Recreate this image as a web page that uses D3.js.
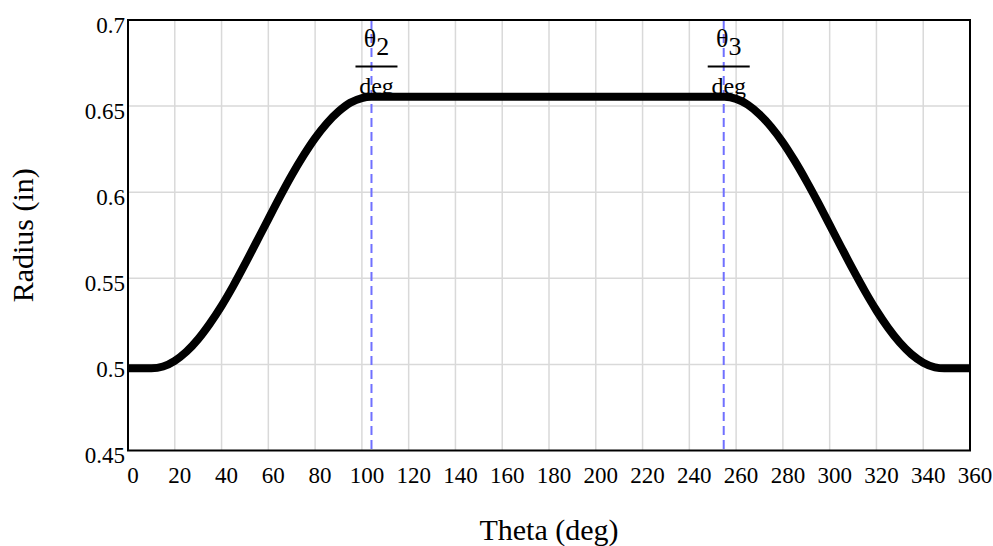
<!DOCTYPE html>
<html>
<head>
<meta charset="utf-8">
<script src="https://cdn.jsdelivr.net/npm/d3@7"></script>
<style>
  body { margin: 0; background: #fff; }
  text { font-family: "Liberation Serif", "Times New Roman", serif; fill: #000; }
</style>
</head>
<body>
<div id="chart"></div>
<script>
const width = 993;
const height = 546;

// cam follower radius vs. cam angle
const theta = [0, 5, 10, 15, 20, 25, 30, 35, 40, 45, 50, 55, 60, 65, 70, 75, 80, 85, 90, 95, 100, 104,
  150, 200, 250, 255, 260, 265, 270, 275, 280, 285, 290, 295, 300, 305, 310, 315, 320, 325, 330, 335, 340, 345, 349, 360];
const radius = [0.4977, 0.4977, 0.4977, 0.4988, 0.5021, 0.5074, 0.5147, 0.5237, 0.5340, 0.5456, 0.5582, 0.5713, 0.5844, 0.5974, 0.6098, 0.6212, 0.6314, 0.6400, 0.6468, 0.6519, 0.6547, 0.6554,
  0.6554, 0.6554, 0.6554, 0.6554, 0.6542, 0.6508, 0.6452, 0.6379, 0.6289, 0.6183, 0.6066, 0.5941, 0.5810, 0.5679, 0.5550, 0.5427, 0.5313, 0.5212, 0.5126, 0.5058, 0.5010, 0.4983, 0.4977, 0.4977];

const markerAngles = [104.1, 254.7];
const markerSubs = ["2", "3"];

const xTicks = d3.range(0, 361, 20);
const yTicks = [0.45, 0.5, 0.55, 0.6, 0.65, 0.7];

const margin = { left: 128, top: 20, right: 23, bottom: 95.5 };

const svg = d3.select("#chart")
  .append("svg")
  .attr("width", width)
  .attr("height", height);

const x = d3.scaleLinear()
  .domain([0, 360])
  .range([margin.left, width - margin.right]);

const y = d3.scaleLinear()
  .domain([0.45, 0.7])
  .range([height - margin.bottom, margin.top]);

// grid
svg.append("g")
  .selectAll("line")
  .data(xTicks.slice(1, -1))
  .enter()
  .append("line")
  .attr("x1", d => x(d))
  .attr("x2", d => x(d))
  .attr("y1", y(0.45))
  .attr("y2", y(0.7))
  .attr("stroke", "#d9d9d9")
  .attr("stroke-width", 1.5);

svg.append("g")
  .selectAll("line")
  .data(yTicks.slice(1, -1))
  .enter()
  .append("line")
  .attr("x1", x(0))
  .attr("x2", x(360))
  .attr("y1", d => y(d))
  .attr("y2", d => y(d))
  .attr("stroke", "#d9d9d9")
  .attr("stroke-width", 1.5);

// tick labels
svg.append("g")
  .selectAll("text")
  .data(xTicks)
  .enter()
  .append("text")
  .attr("x", d => x(d) + 5)
  .attr("y", y(0.45) + 32)
  .attr("text-anchor", "middle")
  .style("font-size", "23px")
  .text(d => d);

svg.append("g")
  .selectAll("text")
  .data(yTicks)
  .enter()
  .append("text")
  .attr("x", x(0) - 3)
  .attr("y", d => y(d) + 12.5)
  .attr("text-anchor", "end")
  .style("font-size", "23px")
  .text(d => d);

// marker lines
svg.append("g")
  .selectAll("line")
  .data(markerAngles)
  .enter()
  .append("line")
  .attr("x1", d => x(d))
  .attr("x2", d => x(d))
  .attr("y1", y(0.7))
  .attr("y2", y(0.45))
  .attr("stroke", "#7070ff")
  .attr("stroke-width", 2)
  .attr("stroke-dasharray", "9,5");

// marker labels: theta_n / deg
const mk = svg.append("g")
  .selectAll("g")
  .data(markerAngles)
  .enter()
  .append("g")
  .attr("transform", d => `translate(${x(d) + 5},0)`);

const num = mk.append("text")
  .attr("y", 47)
  .attr("text-anchor", "middle")
  .style("font-size", "26px");
num.append("tspan").text("θ");
num.append("tspan")
  .attr("dy", 8)
  .text((d, i) => markerSubs[i]);

mk.append("line")
  .attr("x1", -21)
  .attr("x2", 21)
  .attr("y1", 66.5)
  .attr("y2", 66.5)
  .attr("stroke", "#000")
  .attr("stroke-width", 2);

mk.append("text")
  .attr("y", 94)
  .attr("text-anchor", "middle")
  .style("font-size", "24px")
  .text("deg");

// curve
const line = d3.line()
  .x((d, i) => x(theta[i]))
  .y(d => y(d))
  .curve(d3.curveMonotoneX);

svg.append("path")
  .datum(radius)
  .attr("d", line)
  .attr("fill", "none")
  .attr("stroke", "#000")
  .attr("stroke-width", 8);

// frame
svg.append("rect")
  .attr("x", x(0))
  .attr("y", y(0.7))
  .attr("width", x(360) - x(0))
  .attr("height", y(0.45) - y(0.7))
  .attr("fill", "none")
  .attr("stroke", "#000")
  .attr("stroke-width", 2);

// axis titles
svg.append("text")
  .attr("x", (x(0) + x(360)) / 2)
  .attr("y", 540)
  .attr("text-anchor", "middle")
  .style("font-size", "30px")
  .text("Theta (deg)");

svg.append("text")
  .attr("transform", `translate(33,${(y(0.45) + y(0.7)) / 2}) rotate(-90)`)
  .attr("text-anchor", "middle")
  .style("font-size", "30px")
  .text("Radius (in)");
</script>
</body>
</html>
